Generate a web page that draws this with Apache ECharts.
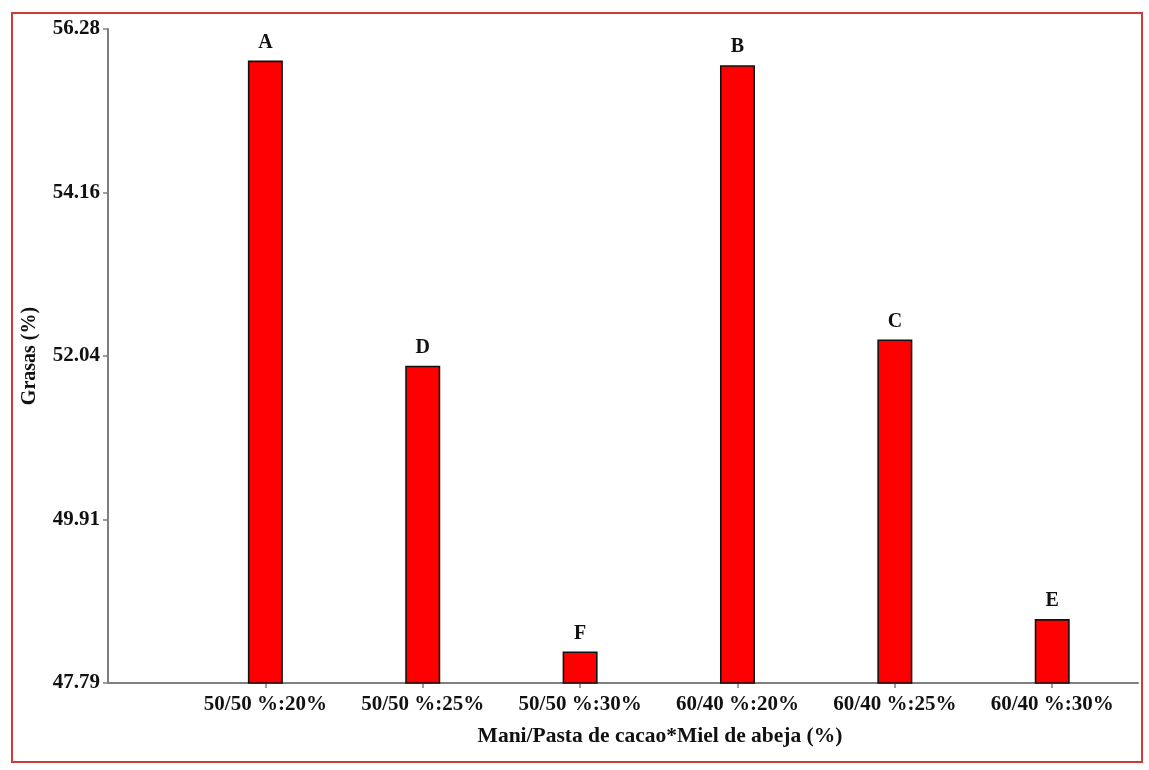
<!DOCTYPE html>
<html>
<head>
<meta charset="utf-8">
<script src="https://cdn.jsdelivr.net/npm/echarts@6/dist/echarts.min.js"></script>
<style>
html,body{margin:0;padding:0;background:#fff;}
#chart{width:1149px;height:770px;}
</style>
</head>
<body>
<div id="chart"></div>
<script>
const categories = ['50/50 %:20%', '50/50 %:25%', '50/50 %:30%', '60/40 %:20%', '60/40 %:25%', '60/40 %:30%'];
const grasas = [55.87, 51.91, 48.20, 55.81, 52.25, 48.62];
const letters = ['A', 'D', 'F', 'B', 'C', 'E'];
const yTicks = [47.79, 49.91, 52.04, 54.16, 56.28];
const positions = [1, 2, 3, 4, 5, 6];

const font = '"Liberation Serif", "Times New Roman", serif';
const chart = echarts.init(document.getElementById('chart'));
chart.setOption({
  animation: false,
  backgroundColor: '#fff',
  graphic: [{
    type: 'rect',
    shape: { x: 12, y: 13, width: 1130, height: 749 },
    style: { fill: 'none', stroke: '#d03a3a', lineWidth: 2 },
    silent: true
  }],
  grid: { left: 108, right: 11, top: 29, bottom: 87, containLabel: false },
  xAxis: {
    type: 'value',
    min: 0,
    max: 6.545,
    name: 'Mani/Pasta de cacao*Miel de abeja (%)',
    nameLocation: 'middle',
    nameGap: 42,
    nameTextStyle: { fontFamily: font, fontWeight: 'bold', fontSize: 21.5, color: '#111', padding: [0, 0, 0, 74] },
    splitLine: { show: false },
    axisLine: { show: true, lineStyle: { color: '#7f7f7f', width: 2 } },
    axisTick: { show: true, length: 5, customValues: positions, lineStyle: { color: '#7f7f7f', width: 1.5 } },
    axisLabel: {
      customValues: positions,
      formatter: v => categories[Math.round(v) - 1] || '',
      fontFamily: font, fontWeight: 'bold', fontSize: 21, color: '#111', margin: 11
    }
  },
  yAxis: {
    type: 'value',
    min: yTicks[0],
    max: yTicks[yTicks.length - 1],
    name: 'Grasas (%)',
    nameLocation: 'middle',
    nameGap: 68,
    nameRotate: 90,
    nameTextStyle: { fontFamily: font, fontWeight: 'bold', fontSize: 20, color: '#111' },
    splitLine: { show: false },
    axisLine: { show: true, lineStyle: { color: '#7f7f7f', width: 2 } },
    axisTick: { show: true, length: 5, customValues: yTicks, lineStyle: { color: '#7f7f7f', width: 1.5 } },
    axisLabel: {
      customValues: yTicks,
      formatter: v => v.toFixed(2),
      fontFamily: font, fontWeight: 'bold', fontSize: 21, color: '#111', margin: 8
    }
  },
  series: [{
    type: 'bar',
    barWidth: 35,
    data: positions.map((p, i) => [p, grasas[i]]),
    itemStyle: { color: '#ff0000', borderColor: '#111', borderWidth: 1.6 },
    label: {
      show: true,
      position: 'top',
      distance: 8,
      formatter: p => letters[p.dataIndex],
      fontFamily: font, fontWeight: 'bold', fontSize: 20, color: '#111'
    }
  }]
});
</script>
</body>
</html>
